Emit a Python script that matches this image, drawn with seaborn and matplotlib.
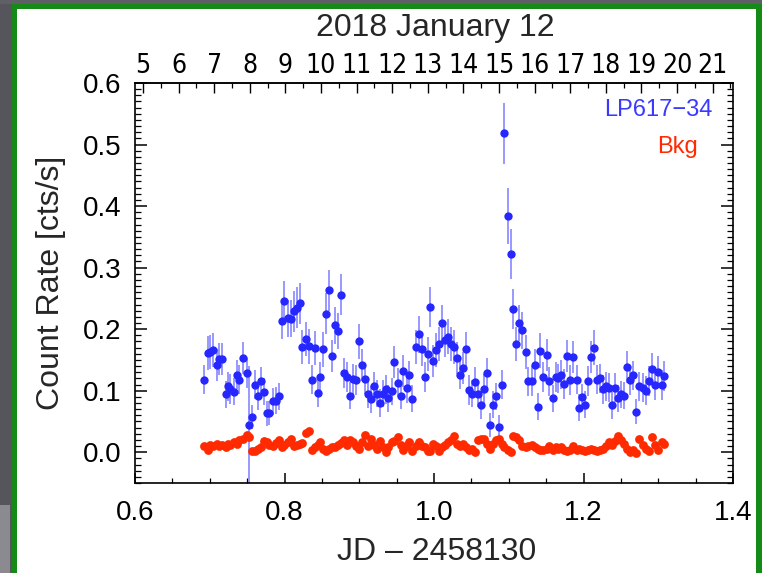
import numpy as np
import pandas as pd
import matplotlib
matplotlib.use("Agg")
import matplotlib.pyplot as plt
import seaborn as sns
from matplotlib.ticker import MultipleLocator, FormatStrFormatter
from matplotlib.patches import Rectangle
from matplotlib import font_manager

# ---------------- data ----------------
jd_offset = [
    0.6927, 0.6972, 0.7003, 0.7048, 0.7093, 0.7128, 0.7168, 0.7213, 0.7240, 0.7275,
    0.7324, 0.7365, 0.7396, 0.7449, 0.7494, 0.7525, 0.7561, 0.7605, 0.7650, 0.7686,
    0.7726, 0.7762, 0.7793, 0.7842, 0.7886, 0.7930, 0.7962, 0.7998, 0.8051, 0.8087,
    0.8123, 0.8163, 0.8207, 0.8238, 0.8284, 0.8328, 0.8364, 0.8408, 0.8444, 0.8475,
    0.8519, 0.8555, 0.8595, 0.8640, 0.8676, 0.8712, 0.8756, 0.8800, 0.8840, 0.8876,
    0.8912, 0.8957, 0.8997, 0.9041, 0.9077, 0.9121, 0.9157, 0.9197, 0.9233, 0.9278,
    0.9314, 0.9358, 0.9389, 0.9434, 0.9469, 0.9523, 0.9559, 0.9590, 0.9635, 0.9670,
    0.9710, 0.9755, 0.9799, 0.9835, 0.9880, 0.9916, 0.9946, 0.9991, 1.0027, 1.0067,
    1.0111, 1.0147, 1.0191, 1.0227, 1.0272, 1.0308, 1.0348, 1.0392, 1.0428, 1.0468,
    1.0512, 1.0548, 1.0593, 1.0629, 1.0669, 1.0705, 1.0749, 1.0785, 1.0825, 1.0870,
    1.0914, 1.0941, 1.0986, 1.1026, 1.1061, 1.1093, 1.1141, 1.1182, 1.1227, 1.1262,
    1.1307, 1.1351, 1.1387, 1.1418, 1.1462, 1.1508, 1.1543, 1.1588, 1.1628, 1.1663,
    1.1699, 1.1743, 1.1779, 1.1824, 1.1864, 1.1909, 1.1940, 1.1984, 1.2020, 1.2064,
    1.2100, 1.2140, 1.2177, 1.2221, 1.2257, 1.2301, 1.2341, 1.2377, 1.2421, 1.2457,
    1.2502, 1.2542, 1.2578, 1.2622, 1.2658, 1.2702, 1.2747, 1.2800, 1.2836, 1.2876,
    1.2912, 1.2956, 1.3002, 1.3046, 1.3082,
]

src_rate = [
    0.118, 0.161, 0.163, 0.166, 0.141, 0.152, 0.152, 0.094, 0.107, 0.103,
    0.098, 0.126, 0.118, 0.153, 0.129, 0.045, 0.057, 0.110, 0.091, 0.115,
    0.098, 0.063, 0.064, 0.083, 0.084, 0.091, 0.214, 0.246, 0.218, 0.217,
    0.229, 0.235, 0.242, 0.171, 0.184, 0.172, 0.118, 0.169, 0.096, 0.122,
    0.167, 0.225, 0.263, 0.156, 0.206, 0.197, 0.256, 0.129, 0.122, 0.092,
    0.119, 0.117, 0.180, 0.141, 0.119, 0.094, 0.086, 0.107, 0.095, 0.080,
    0.095, 0.102, 0.088, 0.099, 0.146, 0.113, 0.092, 0.132, 0.104, 0.125,
    0.087, 0.171, 0.192, 0.168, 0.122, 0.160, 0.236, 0.148, 0.166, 0.176,
    0.210, 0.183, 0.188, 0.176, 0.171, 0.153, 0.126, 0.137, 0.168, 0.101,
    0.095, 0.114, 0.095, 0.076, 0.103, 0.129, 0.044, 0.077, 0.091, 0.041,
    0.110, 0.518, 0.384, 0.322, 0.233, 0.176, 0.210, 0.198, 0.163, 0.115,
    0.116, 0.141, 0.074, 0.165, 0.122, 0.158, 0.115, 0.088, 0.122, 0.120,
    0.126, 0.111, 0.156, 0.117, 0.154, 0.118, 0.072, 0.089, 0.077, 0.116,
    0.154, 0.170, 0.118, 0.120, 0.102, 0.107, 0.105, 0.076, 0.105, 0.088,
    0.094, 0.092, 0.138, 0.117, 0.125, 0.066, 0.107, 0.105, 0.100, 0.116,
    0.135, 0.109, 0.131, 0.109, 0.124,
]

src_err = [
    0.024, 0.028, 0.028, 0.028, 0.026, 0.026, 0.026, 0.022, 0.024, 0.024,
    0.022, 0.024, 0.024, 0.026, 0.024, 0.095, 0.020, 0.024, 0.022, 0.024,
    0.022, 0.020, 0.020, 0.022, 0.022, 0.022, 0.030, 0.033, 0.030, 0.030,
    0.033, 0.033, 0.033, 0.028, 0.028, 0.028, 0.024, 0.028, 0.022, 0.024,
    0.028, 0.033, 0.033, 0.026, 0.030, 0.030, 0.033, 0.024, 0.024, 0.022,
    0.024, 0.024, 0.028, 0.026, 0.024, 0.022, 0.022, 0.024, 0.022, 0.022,
    0.022, 0.024, 0.022, 0.022, 0.026, 0.024, 0.022, 0.026, 0.024, 0.024,
    0.022, 0.028, 0.030, 0.028, 0.024, 0.028, 0.033, 0.026, 0.028, 0.028,
    0.030, 0.028, 0.028, 0.028, 0.028, 0.026, 0.024, 0.026, 0.028, 0.024,
    0.022, 0.024, 0.022, 0.022, 0.024, 0.024, 0.020, 0.022, 0.022, 0.020,
    0.024, 0.049, 0.045, 0.040, 0.033, 0.028, 0.030, 0.030, 0.028, 0.024,
    0.024, 0.026, 0.022, 0.028, 0.024, 0.026, 0.024, 0.022, 0.024, 0.024,
    0.024, 0.024, 0.026, 0.024, 0.026, 0.024, 0.022, 0.022, 0.022, 0.024,
    0.026, 0.028, 0.024, 0.024, 0.024, 0.024, 0.024, 0.022, 0.024, 0.022,
    0.022, 0.022, 0.026, 0.024, 0.024, 0.020, 0.024, 0.024, 0.024, 0.024,
    0.026, 0.024, 0.026, 0.024, 0.024,
]

bkg_rate = [
    0.010, 0.004, 0.012, 0.010, 0.014, 0.010, 0.012, 0.008, 0.014, 0.012,
    0.016, 0.014, 0.020, 0.022, 0.028, 0.024, 0.002, 0.002, 0.005, 0.008,
    0.018, 0.016, 0.012, 0.010, 0.015, 0.020, 0.008, 0.012, 0.016, 0.022,
    0.010, 0.012, 0.014, 0.015, 0.032, 0.035, 0.004, 0.008, 0.012, 0.016,
    0.005, 0.002, 0.005, 0.008, 0.008, 0.012, 0.015, 0.020, 0.012, 0.020,
    0.016, 0.010, 0.005, 0.016, 0.028, 0.010, 0.022, 0.012, 0.006, 0.018,
    0.008, 0.000, 0.008, 0.016, 0.018, 0.024, 0.012, 0.004, 0.010, 0.016,
    0.002, 0.010, 0.016, 0.010, 0.008, 0.002, 0.002, 0.014, 0.010, 0.002,
    0.008, 0.012, 0.016, 0.020, 0.026, 0.014, 0.010, 0.014, 0.008, 0.004,
    0.006, 0.000, 0.020, 0.022, 0.022, 0.014, 0.006, 0.014, 0.020, 0.022,
    0.014, 0.008, 0.004, 0.000, 0.026, 0.024, 0.020, 0.010, 0.008, 0.010,
    0.012, 0.008, 0.006, 0.004, 0.004, 0.006, 0.010, 0.004, 0.008, 0.006,
    0.008, 0.004, 0.002, 0.004, 0.010, 0.004, 0.006, 0.004, 0.002, 0.004,
    0.006, 0.004, 0.002, 0.004, 0.006, 0.010, 0.016, 0.012, 0.018, 0.026,
    0.020, 0.014, 0.006, 0.000, 0.004, -0.002, 0.022, 0.012, 0.006, 0.002,
    0.024, 0.012, 0.004, 0.016, 0.014,
]

series_names = ["LP617\u221234", "Bkg"]
series_colors = ["#2626ff", "#ff2a00"]
errbar_color = "#7c7cff"

top_hours = list(range(5, 22))
x_ticks = [0.6, 0.8, 1.0, 1.2, 1.4]
y_ticks = [0.0, 0.1, 0.2, 0.3, 0.4, 0.5, 0.6]

# top-axis mapping (UT hour <-> JD offset), as drawn in the reference
HOUR0_JD = 0.6107
JD_PER_HOUR = 0.04763

def jd_to_hour(x):
    return 5 + (np.asarray(x) - HOUR0_JD) / JD_PER_HOUR

def hour_to_jd(h):
    return HOUR0_JD + (np.asarray(h) - 5) * JD_PER_HOUR

# ---------------- plotting ----------------
sns.set_theme(style="ticks")
plt.rcParams['font.family'] = ['Liberation Sans', 'DejaVu Sans']
plt.rcParams['axes.linewidth'] = 1.2

# look for a condensed face for the crowded top labels
cond_family, cond_stretch = None, None
for f in font_manager.fontManager.ttflist:
    fn = f.fname.lower()
    if ('narrow' in fn or 'condensed' in fn) and 'bold' not in fn and 'oblique' not in fn \
            and 'italic' not in fn and 'mono' not in fn and 'serif' not in f.name.lower():
        cond_family, cond_stretch = f.name, f.stretch
        break

W, H = 762, 573
fig = plt.figure(figsize=(W / 100, H / 100), dpi=100)
fig.patch.set_facecolor('white')

# decorative frame like the screenshot
def frect(x0, y0, x1, y1, color, z=0):
    fig.patches.append(Rectangle((x0 / W, 1 - y1 / H), (x1 - x0) / W, (y1 - y0) / H,
                                 transform=fig.transFigure, facecolor=color,
                                 edgecolor='none', zorder=z))

frect(0, 0, 12, H, '#55555b')
frect(0, 0, W, 4, '#5f5f66')
frect(12, 4, 17, H, '#168a16')
frect(12, 4, W, 9, '#168a16')
frect(756, 4, W, H, '#168a16')
frect(0, 505, 10, H, '#8a8a90')

ax = fig.add_axes([135 / W, 1 - 483 / H, 598 / W, 400 / H])
ax.set_facecolor('white')

df = pd.DataFrame({
    'jd': jd_offset * 2,
    'rate': src_rate + bkg_rate,
    'series': [series_names[0]] * len(jd_offset) + [series_names[1]] * len(jd_offset),
})

ax.errorbar(jd_offset, src_rate, yerr=src_err, fmt='none', ecolor=errbar_color,
            elinewidth=1.1, capsize=0, zorder=2)
sns.scatterplot(data=df[df['series'] == series_names[1]], x='jd', y='rate',
                color=series_colors[1], s=40, linewidth=0, ax=ax, zorder=3,
                legend=False)
sns.scatterplot(data=df[df['series'] == series_names[0]], x='jd', y='rate',
                color=series_colors[0], s=36, linewidth=0, ax=ax, zorder=4,
                legend=False)

ax.set_xlim(0.6, 1.4)
ax.set_ylim(-0.05, 0.6)
ax.set_xticks(x_ticks)
ax.set_yticks(y_ticks)
ax.xaxis.set_minor_locator(MultipleLocator(0.05))
ax.yaxis.set_minor_locator(MultipleLocator(0.01))
ax.xaxis.set_major_formatter(FormatStrFormatter('%.1f'))
ax.yaxis.set_major_formatter(FormatStrFormatter('%.1f'))

ax.tick_params(axis='both', which='both', direction='in', top=False, right=True,
               colors='black', labelsize=20)
ax.tick_params(axis='y', which='major', length=8.6, width=1.1, pad=10)
ax.tick_params(axis='y', which='minor', length=4.3, width=0.9)
ax.tick_params(axis='x', which='major', length=7, width=1.1, pad=12)
ax.tick_params(axis='x', which='minor', length=3.6, width=0.9)
for sp in ax.spines.values():
    sp.set_color('black')
    sp.set_linewidth(1.2)

ax.set_xlabel("JD \u2013 2458130", fontsize=23)
ax.set_ylabel("Count Rate [cts/s]", fontsize=23)
ax.xaxis.set_label_coords(0.505, -0.135)
ax.yaxis.set_label_coords(-0.14, 0.5)
ax.yaxis.label.set_verticalalignment('center')

sec = ax.secondary_xaxis('top', functions=(jd_to_hour, hour_to_jd))
sec.set_xticks(top_hours)
sec.xaxis.set_minor_locator(MultipleLocator(0.5))
sec.tick_params(axis='x', which='both', direction='in', colors='black', pad=3)
sec.tick_params(axis='x', which='major', length=7, width=1.0)
sec.tick_params(axis='x', which='minor', length=3.6, width=0.9)
sec.spines['top'].set_linewidth(1.2)
if cond_family:
    sec.tick_params(axis='x', which='major', labelsize=19,
                    labelfontfamily=cond_family)
    for lab in sec.get_xticklabels():
        lab.set_fontstretch(cond_stretch)
else:
    sec.tick_params(axis='x', which='major', labelsize=17)

ax.text(0.784, 0.9325, series_names[0], transform=ax.transAxes, color='#3a3aff',
        fontsize=17, ha='left', va='center')
ax.text(0.873, 0.84, series_names[1], transform=ax.transAxes, color='#ff2a00',
        fontsize=17, ha='left', va='center')

fig.text(435 / W, 1 - 28 / H, "2018 January 12", ha='center', va='center', fontsize=23)

fig.savefig("out.png", dpi=100)
